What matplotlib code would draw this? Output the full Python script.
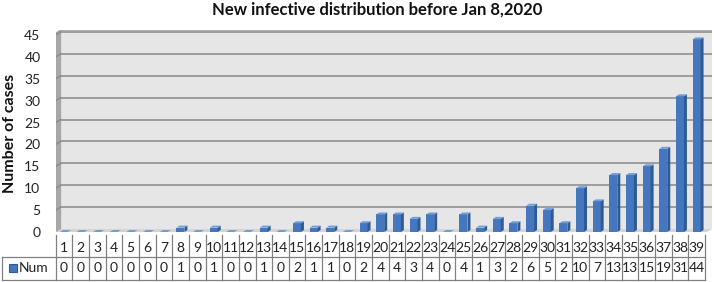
import matplotlib
matplotlib.use('Agg')
import matplotlib.pyplot as plt
from matplotlib.patches import Polygon, Rectangle

# ---------------- data ----------------
categories = [str(i) for i in range(1, 40)]
num_values = [0, 0, 0, 0, 0, 0, 0, 1, 0, 1, 0, 0, 1, 0, 2, 1, 1, 0, 2, 4,
              4, 3, 4, 0, 4, 1, 3, 2, 6, 5, 2, 10, 7, 13, 13, 15, 19, 31, 44]
series_name = 'Num'
y_ticks = [0, 5, 10, 15, 20, 25, 30, 35, 40, 45]
title_text = 'New infective distribution before Jan 8,2020'
ylabel_text = 'Number of cases'

# ---------------- layout ----------------
W, H = 714, 282
FONT = ['Lato', 'DejaVu Sans']
plt.rcParams['font.family'] = FONT

fig = plt.figure(figsize=(W / 100, H / 100), dpi=100)
fig.patch.set_facecolor('white')

col_left = 55.7
col_w = 16.65
ax_right_px = 712
y0_px, y45_px, ytop_px = 232, 35, 30
ppu = (y0_px - y45_px) / 45.0

ax = fig.add_axes([col_left / W, 1 - y0_px / H,
                   (ax_right_px - col_left) / W, (y0_px - ytop_px) / H])
xmin = 0.5
xmax = 0.5 + (ax_right_px - col_left) / col_w
ymax = (y0_px - ytop_px) / ppu
ax.set_xlim(xmin, xmax)
ax.set_ylim(0, ymax)
for s in ax.spines.values():
    s.set_visible(False)
ax.set_facecolor('none')
ax.set_xticks([])
ax.set_yticks(y_ticks)
ax.set_yticklabels([str(t) for t in y_ticks], fontsize=10, color='#222222')
ax.tick_params(axis='y', length=0, pad=11)

ddx = 5 / col_w
ddy = 3 / ppu

# walls
ax.add_patch(Rectangle((xmin + ddx, ddy), xmax - xmin - ddx, ymax - ddy,
                       facecolor='#e6e6e6', edgecolor='none', zorder=0))
ax.add_patch(Polygon([(xmin, 0), (xmin + ddx, ddy), (xmin + ddx, ymax),
                      (xmin, ymax - ddy)], closed=True,
                     facecolor='#a8a8a8', edgecolor='#9a9a9a', lw=0.6, zorder=1))
ax.add_patch(Polygon([(xmin, 0), (xmax - ddx, 0), (xmax, ddy), (xmin + ddx, ddy)],
                     closed=True, facecolor='#d4d4d4', edgecolor='none', zorder=1))
# gridlines
for v in y_ticks[1:]:
    ax.plot([xmin + ddx, xmax], [v + ddy, v + ddy], color='#9c9c9c', lw=1.4,
            zorder=2, solid_capstyle='butt')
    ax.plot([xmin, xmin + ddx], [v, v + ddy], color='#8a8a8a', lw=1.0, zorder=2)
ax.plot([xmin + ddx, xmax], [ymax, ymax], color='#b0b0b0', lw=1.0, zorder=2)

# 3D bars
bdx = 3 / col_w
bdy = 2 / ppu
fl, fr = -0.25, 0.23
front_c, side_c, top_c = '#4677be', '#2d5b95', '#6f9dd8'
for i, v in enumerate(num_values, start=1):
    ax.add_patch(Rectangle((i + fl, 0), fr - fl, v, facecolor=front_c,
                           edgecolor='none', zorder=3))
    ax.add_patch(Polygon([(i + fr, 0), (i + fr + bdx, bdy), (i + fr + bdx, v + bdy),
                          (i + fr, v)], closed=True, facecolor=side_c,
                         edgecolor='none', zorder=3))
    ax.add_patch(Polygon([(i + fl, v), (i + fr, v), (i + fr + bdx, v + bdy),
                          (i + fl + bdx, v + bdy)], closed=True, facecolor=top_c,
                         edgecolor='none', zorder=4))

# y label & title
fig.text(10 / W, 1 - 133 / H, ylabel_text, rotation=90, ha='center', va='center',
         fontsize=11.5, fontweight='bold', color='#111111')
fig.text(377 / W, 1 - 10 / H, title_text, ha='center', va='center',
         fontsize=12, fontweight='bold', color='#111111')

# ---------------- data table ----------------
tab = fig.add_axes([0, 0, 1, 1])
tab.set_xlim(0, W)
tab.set_ylim(H, 0)
tab.axis('off')
tab.set_facecolor('none')
lc = '#808080'
lw = 0.9
r1_top, r_mid, r_bot = 235, 257, 280
n = len(categories)
right_edge = col_left + n * col_w
for k in range(n + 1):
    xx = col_left + k * col_w
    tab.plot([xx, xx], [r1_top, r_bot], color=lc, lw=lw)
tab.plot([2, right_edge], [r_mid, r_mid], color=lc, lw=lw)
tab.plot([2, right_edge], [r_bot, r_bot], color=lc, lw=lw)
tab.plot([2, 2], [r_mid, r_bot], color=lc, lw=lw)
for k, (c, v) in enumerate(zip(categories, num_values)):
    xc = col_left + (k + 0.5) * col_w
    tab.text(xc, 247.5, c, ha='center', va='center', fontsize=10, color='#222222')
    tab.text(xc, 268.5, str(v), ha='center', va='center', fontsize=10, color='#222222')
tab.add_patch(Rectangle((8.5, 264), 8, 8, facecolor=front_c, edgecolor=side_c, lw=0.8))
tab.text(18.5, 268.5, series_name, ha='left', va='center', fontsize=10, color='#222222')

fig.savefig('out.png', dpi=100, facecolor='white')
